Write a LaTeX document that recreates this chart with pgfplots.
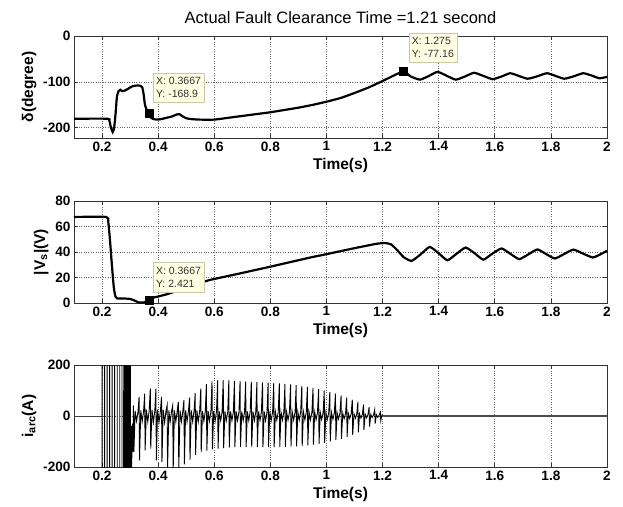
\documentclass[border=0pt]{standalone}
\usepackage{pgfplots}
\pgfplotsset{compat=1.18}
\usepackage{fontspec}
\setmainfont{Liberation Sans}
\definecolor{tipfill}{RGB}{255,255,228}
\definecolor{tipdraw}{RGB}{200,200,170}
\definecolor{tiptext}{RGB}{50,50,50}
\tikzset{
  tip/.style={draw=tipdraw, fill=tipfill, text=tiptext, align=left, anchor=south west,
    font=\fontsize{10.5}{13}\selectfont, inner xsep=3pt, inner ysep=4.5pt},
}
\pgfplotsset{
  base/.style={
    scale only axis, width=533pt, height=102pt,
    xmin=0.1, xmax=2,
    xtick={0.2,0.4,0.6,0.8,1,1.2,1.4,1.6,1.8,2},
    xticklabels={0.2,0.4,0.6,0.8,1,1.2,1.4,1.6,1.8,2},
    grid=major, grid style={dotted, black!60, line width=0.8pt},
    tick align=inside, major tick length=4pt,
    axis line style={black!80, line width=0.8pt},
    every tick/.style={black!80, line width=0.8pt},
    ticklabel style={font=\fontsize{13.6}{15}\selectfont\bfseries},
    label style={font=\fontsize{15.5}{17}\selectfont\bfseries},
    xlabel={Time(s)},
    anchor=north west,
  },
}
\begin{document}
\begin{tikzpicture}
\path[use as bounding box] (0,0) rectangle (623pt,-506pt);
% ---------------- Panel 1 ----------------
\begin{axis}[base, at={(74pt,-36pt)}, ymin=-222, ymax=0,
  ytick={-200,-100,0}, yticklabels={-200,-100,0},
  ylabel={δ(degree)}, clip=false,
  title={Actual Fault Clearance Time =1.21 second},
  title style={font=\fontsize{16.5}{18}\selectfont, yshift=3pt}]
\addplot[black, line width=2.2pt, smooth, tension=0.3] coordinates {
(0.1,-180) (0.22,-180) (0.226,-184) (0.232,-200) (0.238,-209) (0.243,-200)
(0.248,-170) (0.253,-132) (0.259,-120) (0.265,-117) (0.272,-120) (0.28,-119)
(0.29,-116) (0.3,-112) (0.31,-109) (0.32,-108) (0.335,-108) (0.343,-111)
(0.348,-126) (0.353,-150) (0.36,-162) (0.3667,-168.9) (0.375,-178) (0.385,-181)
(0.395,-182) (0.41,-181) (0.43,-178) (0.45,-175) (0.465,-171) (0.475,-170)
(0.485,-174) (0.5,-179) (0.52,-181) (0.55,-182) (0.6,-182) (0.65,-178)
(0.7,-174) (0.75,-170) (0.8,-166) (0.85,-161) (0.9,-156) (0.95,-150)
(1.0,-143) (1.05,-135) (1.1,-124) (1.15,-112) (1.2,-98) (1.24,-86)
(1.275,-77.16) (1.3,-88) (1.333,-95) (1.365,-87) (1.396,-78) (1.43,-87)
(1.461,-95) (1.494,-88) (1.526,-80) (1.56,-87) (1.592,-94) (1.625,-88)
(1.655,-81) (1.686,-87) (1.717,-93) (1.75,-88) (1.786,-81) (1.817,-87)
(1.848,-93) (1.88,-88) (1.915,-81) (1.945,-86) (1.973,-92) (2.0,-89)
};
\addplot[only marks, mark=square*, mark size=4pt, mark options={fill=black, draw=black}]
  coordinates {(0.3667,-168.9) (1.275,-77.16)};
\node[tip, xshift=4pt, yshift=11pt] at (axis cs:0.3667,-168.9) {X: 0.3667\\Y: -168.9};
\node[tip, xshift=5pt, yshift=9pt] at (axis cs:1.275,-77.16) {X: 1.275\\Y: -77.16};
\end{axis}
% ---------------- Panel 2 ----------------
\begin{axis}[base, at={(74pt,-201pt)}, ymin=0, ymax=80,
  ytick={0,20,40,60,80}, yticklabels={0,20,40,60,80},
  ylabel={|V\textsubscript{s}|(V)}, clip=false]
\addplot[black, line width=2.2pt, smooth, tension=0.3] coordinates {
(0.1,67.5) (0.215,67.5) (0.222,64) (0.228,50) (0.235,30) (0.242,12) (0.248,5)
(0.255,3.5) (0.28,3.5) (0.3,3.2) (0.315,2) (0.33,0.5) (0.35,0.5) (0.36,1.5)
(0.3667,2.421) (0.38,4) (0.43,6.8) (0.5,12) (0.58,17.8) (0.7,23.6) (0.8,28.5)
(0.943,35.7) (1.0,38.3) (1.1,43) (1.18,46.5) (1.21,47) (1.23,46) (1.25,42)
(1.275,36) (1.303,33) (1.335,38) (1.368,44) (1.40,39) (1.431,33.5) (1.463,38.5)
(1.496,43.5) (1.528,39) (1.559,34) (1.59,38.5) (1.624,42.8) (1.656,38.5)
(1.687,34.4) (1.72,38.2) (1.752,42) (1.783,38.4) (1.814,34.9) (1.847,38.4)
(1.88,41.9) (1.915,38.7) (1.949,35.7) (1.975,38) (2.0,41)
};
\addplot[only marks, mark=square*, mark size=4pt, mark options={fill=black, draw=black}]
  coordinates {(0.3667,2.421)};
\node[tip, xshift=4pt, yshift=8pt] at (axis cs:0.3667,2.421) {X: 0.3667\\Y: 2.421};
\end{axis}
% ---------------- Panel 3 ----------------
\begin{axis}[base, at={(74pt,-365pt)}, ymin=-200, ymax=200,
  ytick={-200,0,200}, yticklabels={-200,0,200},
  ylabel={i\textsubscript{arc}(A)}]
\addplot[black!75, line width=0.9pt] coordinates {(0.1,0) (0.2,0)};
\addplot[black, line width=0.9pt] coordinates {
(0.2,0) (0.2,300) (0.2,-300) (0.209,-300) (0.209,300) (0.218,300) (0.218,-300)
(0.227,-300) (0.227,300) (0.236,300) (0.236,-300) (0.245,-300) (0.245,300)
(0.254,300) (0.254,-300) (0.263,-300) (0.263,300) (0.271,300) (0.271,-300)
(0.2765,-300) (0.2775,300) (0.279,-300) (0.2805,300) (0.282,-300) (0.2835,300)
(0.285,-300) (0.2865,300) (0.288,-300) (0.2895,300) (0.291,-300) (0.2925,300)
(0.294,-300) (0.2955,300) (0.297,-300) (0.2985,300) (0.2995,-300) (0.301,200)
(0.3015,-210) (0.303,-60) (0.3035,-210) (0.305,-40) (0.3055,-200) (0.308,-30) (0.31,-140)
(0.312,42) (0.3135,-141) (0.318,20) (0.323,-20) (0.328,15)
(0.332,75) (0.3335,-174) (0.338,22) (0.343,-22) (0.348,18)
(0.352,88) (0.3535,-135) (0.358,25) (0.363,-22) (0.368,20)
(0.372,107) (0.3735,-128) (0.378,25) (0.383,-25) (0.388,20)
(0.392,107) (0.3935,-174) (0.398,25) (0.403,-25) (0.408,20)
(0.412,75) (0.4135,-180) (0.418,25) (0.423,-25) (0.428,20)
(0.432,42) (0.4335,-210) (0.438,22) (0.443,-22) (0.448,20)
(0.452,42) (0.4535,-215) (0.458,22) (0.463,-22) (0.468,20)
(0.472,55) (0.4735,-210) (0.478,22) (0.483,-22) (0.488,20)
(0.492,62) (0.4935,-190) (0.498,22) (0.503,-22) (0.508,20)
(0.512,72) (0.5135,-172) (0.518,22) (0.523,-22) (0.528,20)
(0.532,90) (0.5335,-152) (0.538,22) (0.543,-22) (0.548,20)
(0.552,107) (0.5535,-142) (0.558,20) (0.563,-20) (0.568,18)
(0.572,125) (0.5735,-136) (0.578,20) (0.583,-20) (0.588,18)
(0.592,136) (0.5935,-131) (0.598,20) (0.603,-20) (0.608,18)
(0.612,140) (0.6135,-128) (0.618,18) (0.623,-18) (0.628,16)
(0.632,141) (0.6335,-126) (0.638,18) (0.643,-18) (0.648,16)
(0.652,140) (0.6535,-124) (0.658,18) (0.663,-18) (0.668,16)
(0.672,138) (0.6735,-122) (0.678,18) (0.683,-18) (0.688,16)
(0.692,136) (0.6935,-122) (0.698,18) (0.703,-18) (0.708,16)
(0.712,135) (0.7135,-122) (0.718,18) (0.723,-18) (0.728,16)
(0.732,134) (0.7335,-122) (0.738,18) (0.743,-18) (0.748,16)
(0.752,133) (0.7535,-122) (0.758,18) (0.763,-18) (0.768,16)
(0.772,132) (0.7735,-122) (0.778,18) (0.783,-18) (0.788,16)
(0.792,131) (0.7935,-122) (0.798,18) (0.803,-18) (0.808,16)
(0.812,130) (0.8135,-122) (0.818,16) (0.823,-16) (0.828,15)
(0.832,128) (0.8335,-122) (0.838,16) (0.843,-16) (0.848,15)
(0.852,126) (0.8535,-121) (0.858,16) (0.863,-16) (0.868,15)
(0.872,124) (0.8735,-120) (0.878,16) (0.883,-16) (0.888,15)
(0.892,121) (0.8935,-119) (0.898,16) (0.903,-16) (0.908,15)
(0.912,118) (0.9135,-117) (0.918,15) (0.923,-15) (0.928,14)
(0.932,114) (0.9335,-115) (0.938,15) (0.943,-15) (0.948,14)
(0.952,110) (0.9535,-112) (0.958,15) (0.963,-15) (0.968,14)
(0.972,105) (0.9735,-109) (0.978,14) (0.983,-14) (0.988,13)
(0.992,100) (0.9935,-105) (0.998,14) (1.003,-14) (1.008,13)
(1.012,94) (1.0135,-100) (1.018,13) (1.023,-13) (1.028,12)
(1.032,88) (1.0335,-95) (1.038,12) (1.043,-12) (1.048,11)
(1.052,80) (1.0535,-90) (1.058,11) (1.063,-11) (1.068,10)
(1.072,72) (1.0735,-82) (1.078,10) (1.083,-10) (1.088,9)
(1.092,64) (1.0935,-74) (1.098,9) (1.103,-9) (1.108,8)
(1.112,55) (1.1135,-64) (1.118,8) (1.123,-8) (1.128,7)
(1.132,45) (1.1335,-54) (1.138,7) (1.143,-7) (1.148,6)
(1.152,35) (1.1535,-42) (1.158,6) (1.163,-6) (1.168,5)
(1.172,25) (1.1735,-30) (1.178,5) (1.183,-5) (1.188,4)
(1.192,15) (1.1935,-18) (1.198,4) (1.2,0)
};
\addplot[black!70, line width=1.3pt] coordinates {(1.2,0) (2,0)};
\end{axis}
\end{tikzpicture}
\end{document}
